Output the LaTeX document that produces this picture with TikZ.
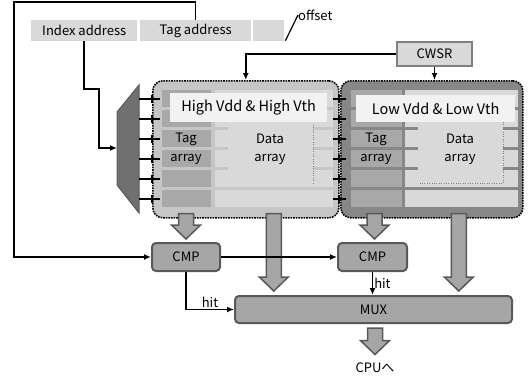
\documentclass[tikz,border=0pt]{standalone}
\usepackage{fontspec}
\setmainfont{Noto Sans CJK JP}
\usetikzlibrary{positioning,calc,arrows.meta}
\definecolor{paleg}{HTML}{D9D9D9}
\definecolor{lablg}{HTML}{F2F2F2}
\definecolor{hibank}{HTML}{C6C6C6}
\definecolor{lobank}{HTML}{878787}
\definecolor{tagg}{HTML}{A8A8A8}
\definecolor{unitg}{HTML}{A6A6A6}
\definecolor{edgeg}{HTML}{595959}
\definecolor{decg}{HTML}{707070}
\tikzset{
  field/.style={fill=paleg, minimum height=21pt, inner sep=0pt, anchor=north west},
  unit/.style={draw=edgeg, line width=2pt, fill=unitg, rounded corners=4pt, inner sep=0pt},
  bank/.style={draw=black, densely dotted, line width=1.6pt, rounded corners=10pt, inner sep=0pt, anchor=north west},
  vlabel/.style={fill=lablg, inner sep=0pt, anchor=north west, font=\fontsize{14.5}{16}\selectfont},
  wire/.style={->, line width=1.5pt},
  fat/.style={fill=unitg, draw=edgeg, line width=1.5pt},
}
\newcommand\fatarrow[2]{%
  \draw[fat] let \p1=(#1), \p2=(#2) in
    (\x1-7.5pt,\y1) -- (\x1-7.5pt,\y2+14pt) -- (\x1-14.5pt,\y2+14pt) -- (\x1,\y2)
    -- (\x1+14.5pt,\y2+14pt) -- (\x1+7.5pt,\y2+14pt) -- (\x1+7.5pt,\y1) -- cycle;}

\begin{document}
\begin{tikzpicture}[x=1pt, y=-1pt, >={Latex[length=7pt,width=6pt]}, font=\fontsize{13}{15}\selectfont]
\useasboundingbox (0,0) rectangle (531,380);

\node[field, minimum width=106pt] (idx) at (31,20) {Index address};
\node[field, minimum width=111pt] (tagf) at (140,20) {Tag address};
\node[field, minimum width=31pt] (off) at (253,20) {};
\node[anchor=west, inner sep=0pt] (offlbl) at (298,15) {offset};
\draw[line width=1.2pt] (off.east) ++(1,10) -- (offlbl.west);
\node[draw=gray, line width=2pt, fill=paleg, minimum width=75pt, minimum height=24pt,
  inner sep=0pt] (cwsr) at (434.5,54) {CWSR};

% two banks
\node[bank, fill=hibank, minimum width=186pt, minimum height=137pt] (bankH) at (152,80) {};
\node[bank, fill=lobank, minimum width=182pt, minimum height=137pt] (bankL) at (340,80) {};
\foreach \r in {0,...,5} {
  \fill[tagg] (162,{90+20*\r}) rectangle (211,{107+20*\r});
  \fill[paleg] (215,{90+20*\r}) rectangle (333,{107+20*\r});
  \fill[tagg] (351,{90+20*\r}) rectangle (402,{107+20*\r});
  \fill[paleg] (405,{90+20*\r}) rectangle (518,{107+20*\r});
}
\fill[paleg] (228,122) rectangle (313,186);
\draw[gray, dotted] (313,125) -- (313,183);
\fill[paleg] (418,122) rectangle (503,183);
\draw[gray, dotted] (503,122) -- (503,183) -- (418,183);
\node[vlabel, minimum width=157pt, minimum height=29pt] (lblH) at (170,93) {High Vdd \& High Vth};
\node[vlabel, minimum width=159pt, minimum height=27pt] (lblL) at (356,95) {Low Vdd \& Low Vth};
\node (tagH) at (186,139) {Tag};
\node (tagH2) at (186,159) {array};
\node (datH) at (270,139) {Data};
\node (datH2) at (270,159) {array};
\node (tagL) at (376,139) {Tag};
\node (tagL2) at (376,159) {array};
\node (datL) at (460,139) {Data};
\node (datL2) at (460,159) {array};

% decoder
\draw[fill=decg, draw=edgeg, line width=1pt] (117,112) -- (139,85) -- (139,213) -- (117,185) -- cycle;
\coordinate (dec) at (117,148);
\foreach \r in {0,...,5} {
  \draw[line width=1.5pt] (139,{99+20*\r}) -- (160,{99+20*\r});
  \draw[line width=1.5pt] (152,{95+20*\r}) -- (152,{103+20*\r});
  \draw[line width=1.5pt] (333,{99+20*\r}) -- (346,{99+20*\r});
  \draw[line width=1.5pt] (339,{95+20*\r}) -- (339,{103+20*\r});
}

\node[unit, minimum width=68pt, minimum height=28pt] (cmpA) at (186,257) {CMP};
\node[unit, minimum width=69pt, minimum height=28pt] (cmpB) at (372.5,257) {CMP};
\node[unit, minimum width=277pt, minimum height=27pt] (mux) at (373.5,309.5) {MUX};
\node (cpu) at (375,368) {CPUへ};

\fatarrow{$(bankH.south -| cmpA.north)+(0,-5)$}{$(cmpA.north)+(0,-3)$}
\fatarrow{$(bankH.south)+(28,-5)$}{$(mux.north)+(0,-4)$}
\fatarrow{$(bankL.south -| cmpB.north)+(2,-5)$}{$(cmpB.north)+(0,-3)$}
\fatarrow{$(bankL.south)+(27,-5)$}{$(mux.north)+(0,-4)$}
\fatarrow{$(mux.south)+(1.5,4)$}{$(cpu.north)+(0,-5)$}

\draw[wire] (tagf.north) |- (14,2) |- (cmpA.west);
\draw[wire] (idx.south) |- (99,89) |- (dec);
\draw[wire] (cwsr.west) -| (bankH.north);
\draw[wire] (cwsr.south) -- (cwsr.south |- bankL.north);
\draw[wire] (cmpA.east) -- (cmpB.west);
\draw[wire] (cmpA.south) |- (mux.west) node[pos=0.75, above, inner sep=1pt] (hitA) {hit};
\draw[wire] (cmpB.south) -- (cmpB.south |- mux.north) node[midway, right, inner sep=1pt] (hitB) {hit};
\end{tikzpicture}
\end{document}
